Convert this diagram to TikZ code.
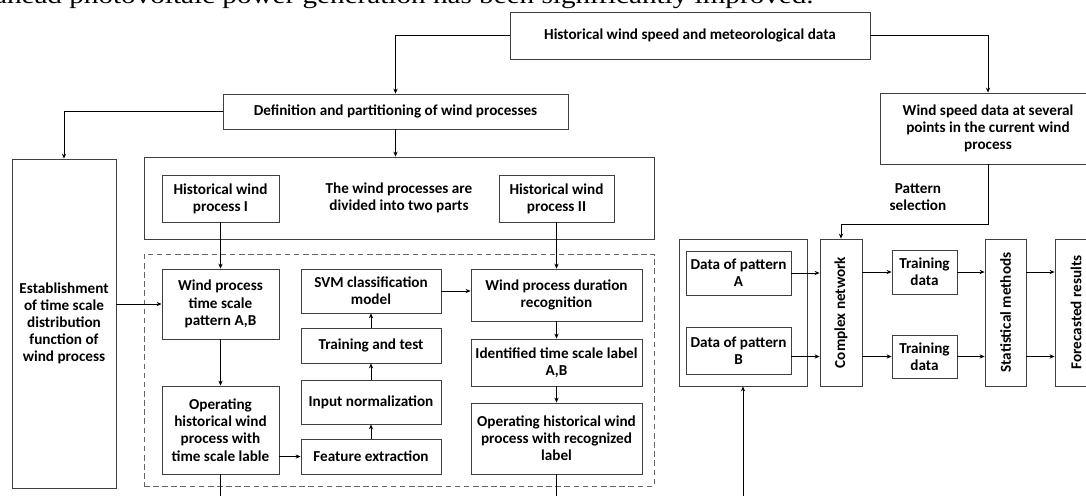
\documentclass[tikz,border=0pt]{standalone}
\usepackage{fontspec}
\setmainfont{Carlito}
\newfontfamily\pagefont{Liberation Serif}
\usetikzlibrary{arrows.meta}

\begin{document}
\begin{tikzpicture}[x=0.025cm, y=-0.025cm,
    every node/.style={font=\fontsize{10.8}{12.2}\selectfont\bfseries},
    box/.style={draw=black!75, line width=0.6pt, fill=white, align=center, inner sep=1pt},
    arr/.style={-{Stealth[length=3.5pt,width=3pt]}, line width=0.5pt},
    wire/.style={line width=0.5pt}]
    \useasboundingbox (0,0) rectangle (1086,495);
    \clip (0,0) rectangle (1086,495);

    % cut-off line of the page text above the figure
    \node[anchor=base east, inner sep=0pt, xscale=1.22,
          font=\pagefont\fontsize{17}{17}\selectfont] (page) at (814,3.5)
        {ahead photovoltaic power generation has been significantly improved.};

    % upper part
    \node[box, minimum width=9cm, minimum height=1.175cm] (hist) at (690,35.5)
        {Historical wind speed and meteorological data};
    \node[box, minimum width=8.625cm, minimum height=0.875cm] (defn) at (395.5,111.5)
        {Definition and partitioning of wind processes};
    \node[box, minimum width=2.6cm, minimum height=8.225cm] (est) at (64,323.5)
        {Establishment\\of time scale\\distribution\\function of\\wind process};
    \node[box, minimum width=12.75cm, minimum height=2.05cm] (two) at (399,198)
        {The wind processes are\\divided into two parts};
    \node[box, minimum width=2.925cm, minimum height=1.175cm] (hw1) at (220.5,198.5)
        {Historical wind\\process I};
    \node[box, minimum width=2.875cm, minimum height=1.175cm] (hw2) at (556.5,198.5)
        {Historical wind\\process II};

    % dashed stage
    \node[draw=black!60, line width=0.6pt, dash pattern=on 4pt off 2.5pt,
          minimum width=12.75cm, minimum height=5.8cm] (stage) at (399,370) {};
    \node[box, minimum width=2.925cm, minimum height=1.75cm] (wtp) at (220.5,304)
        {Wind process\\time scale\\pattern A,B};
    \node[box, minimum width=2.925cm, minimum height=2.2cm] (opl) at (220.5,430)
        {Operating\\historical wind\\process with\\time scale lable};
    \node[box, minimum width=3.5cm, minimum height=1.1cm] (svm) at (371,291)
        {SVM classification\\model};
    \node[box, minimum width=3.5cm, minimum height=0.875cm] (trn) at (371,345.5)
        {Training and test};
    \node[box, minimum width=3.5cm, minimum height=1.1cm] (inp) at (371,402)
        {Input normalization};
    \node[box, minimum width=3.5cm, minimum height=0.875cm] (fea) at (371,456.5)
        {Feature extraction};
    \node[box, minimum width=4.275cm, minimum height=1.3cm] (dur) at (556.5,295)
        {Wind process duration\\recognition};
    \node[box, minimum width=4.275cm, minimum height=1.175cm] (idl) at (556.5,362.5)
        {Identified time scale label\\A,B};
    \node[box, minimum width=4.275cm, minimum height=1.775cm] (opr) at (556.5,438.5)
        {Operating historical wind\\process with recognized\\label};

    % forecasting part
    \node[box, minimum width=5.4cm, minimum height=1.775cm] (ws) at (988,128.5)
        {Wind speed data at several\\points in the current wind\\process};
    \node[align=center] (sel) at (918,197) {Pattern\\selection};
    \node[box, minimum width=3.2cm, minimum height=3.675cm] (dat) at (743,312.5) {};
    \node[box, minimum width=2.625cm, minimum height=1.1cm] (pa) at (738.5,273)
        {Data of pattern\\A};
    \node[box, minimum width=2.625cm, minimum height=1.175cm] (pb) at (738.5,350.5)
        {Data of pattern\\B};
    \node[box, minimum width=1.05cm, minimum height=3.675cm] (cn) at (841,312.5)
        {\rotatebox{90}{Complex network}};
    \node[box, minimum width=1.625cm, minimum height=1.1cm] (td1) at (924.5,272)
        {Training\\data};
    \node[box, minimum width=1.625cm, minimum height=1.075cm] (td2) at (924.5,356.5)
        {Training\\data};
    \node[box, minimum width=1.025cm, minimum height=3.675cm] (sm) at (1005.5,312.5)
        {\rotatebox{90}{Statistical methods}};
    \node[box, minimum width=1.05cm, minimum height=3.675cm] (fr) at (1076,312.5)
        {\rotatebox{90}{Forecasted results}};

    % free ends below the cut
    \coordinate (e1) at (220.5,500);
    \coordinate (e2) at (556.5,500);
    \coordinate (e3) at (743,500);

    % connectors
    \draw[arr] (hist.west) -| (defn.north);
    \draw[arr] (hist.east) -| (ws.north);
    \draw[arr] (defn.west) -| (est.north);
    \draw[arr] (defn.south) -- (defn.south |- two.north);
    \draw[arr] (hw1) -- (wtp);
    \draw[arr] (hw2) -- (dur);
    \draw[arr] (est.east |- wtp.west) -- (wtp.west);
    \draw[arr] (wtp) -- (opl);
    \draw[arr] (opl.east |- fea.west) -- (fea.west);
    \draw[arr] (fea) -- (inp);
    \draw[arr] (inp) -- (trn);
    \draw[arr] (trn) -- (svm);
    \draw[arr] (svm.east) -- (svm.east -| dur.west);
    \draw[arr] (dur) -- (idl);
    \draw[arr] (idl) -- (opr);
    \draw[wire] (opl.south) -- (e1);
    \draw[wire] (opr.south) -- (e2);
    \draw[arr] (e3) -- (dat.south);
    \draw[arr] (ws.south) -- ++(0,60) -| (cn.north);
    \draw[arr] (pa.east) -- (pa.east -| cn.west);
    \draw[arr] (pb.east |- td2.west) -- (cn.west |- td2.west);
    \draw[arr] (cn.east |- td1.west) -- (td1.west);
    \draw[arr] (cn.east |- td2.west) -- (td2.west);
    \draw[arr] (td1.east) -- (td1.east -| sm.west);
    \draw[arr] (td2.east) -- (td2.east -| sm.west);
    \draw[arr] (sm.east |- td1.east) -- (fr.west |- td1.east);
    \draw[arr] (sm.east |- td2.east) -- (fr.west |- td2.east);
\end{tikzpicture}
\end{document}
